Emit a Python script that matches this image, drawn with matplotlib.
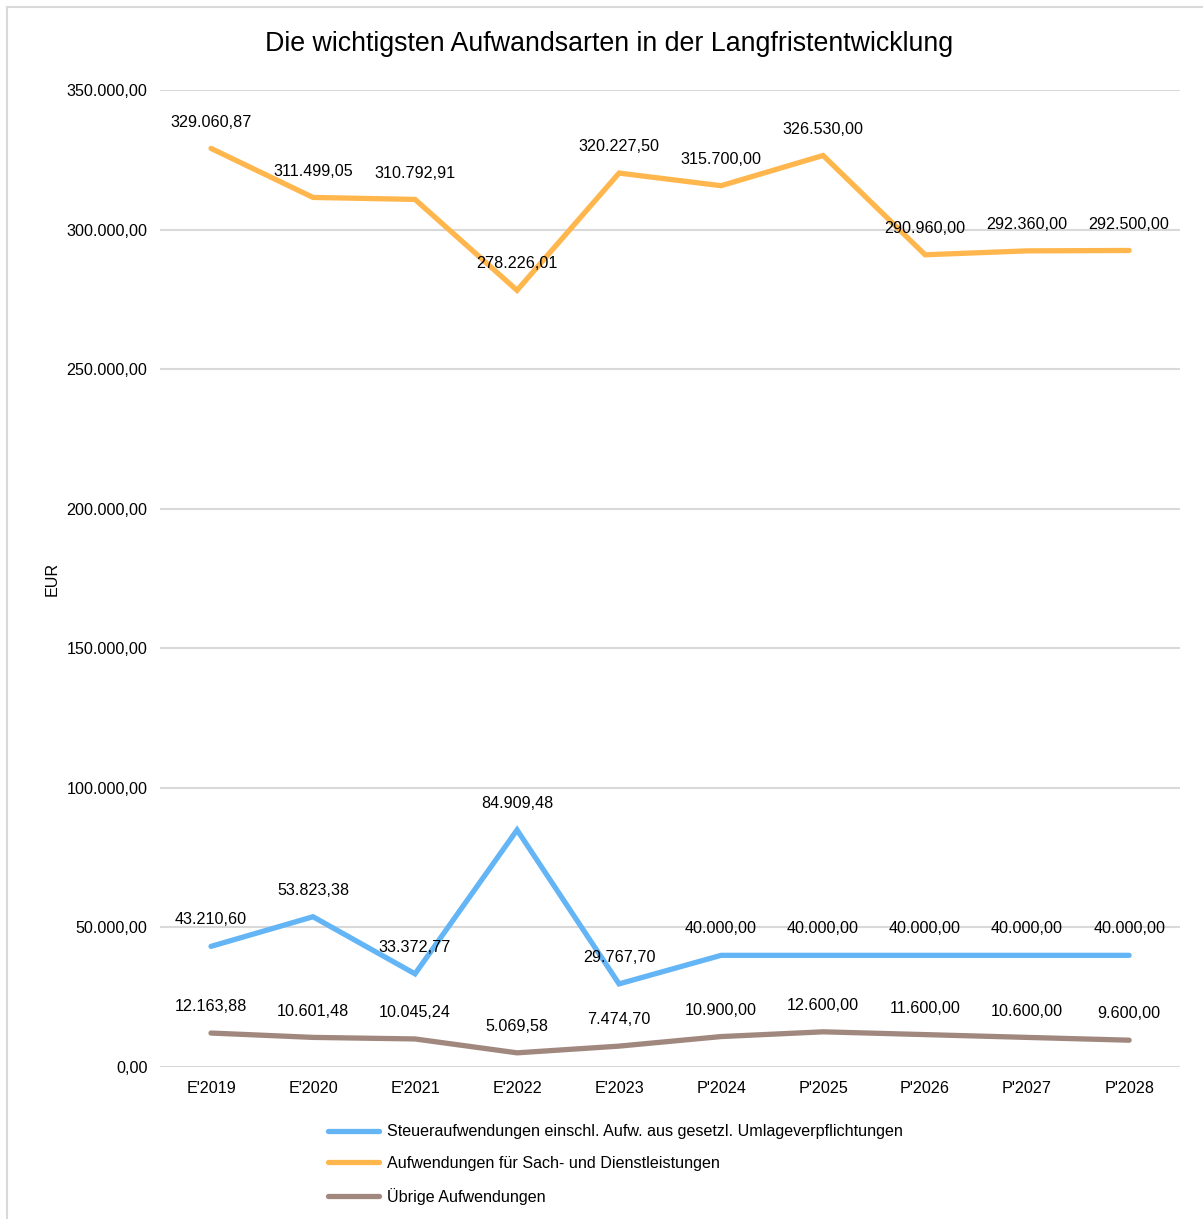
import matplotlib
matplotlib.use('Agg')
import matplotlib.pyplot as plt
from matplotlib.lines import Line2D
from matplotlib.ticker import FuncFormatter

plt.rcParams['font.family'] = ['Liberation Sans', 'DejaVu Sans']

# Data
years = ["E'2019", "E'2020", "E'2021", "E'2022", "E'2023",
         "P'2024", "P'2025", "P'2026", "P'2027", "P'2028"]
steuer = [43210.60, 53823.38, 33372.77, 84909.48, 29767.70,
          40000.00, 40000.00, 40000.00, 40000.00, 40000.00]
sach = [329060.87, 311499.05, 310792.91, 278226.01, 320227.50,
        315700.00, 326530.00, 290960.00, 292360.00, 292500.00]
uebrige = [12163.88, 10601.48, 10045.24, 5069.58, 7474.70,
           10900.00, 12600.00, 11600.00, 10600.00, 9600.00]

labels = ["Steueraufwendungen einschl. Aufw. aus gesetzl. Umlageverpflichtungen",
          "Aufwendungen für Sach- und Dienstleistungen",
          "Übrige Aufwendungen"]
colors = ['#64B5F6', '#FFB74D', '#A1887F']

FS = 11.6


def fmt_de(v, pos=None):
    s = f"{v:,.2f}"
    return s.replace(',', 'X').replace('.', ',').replace('X', '.')


fig = plt.figure(figsize=(12.03, 12.19), dpi=100)
ax = fig.add_axes([0.133, 0.1247, 0.848, 0.8015])

x = list(range(len(years)))
for series, col, lab in zip([steuer, sach, uebrige], colors, labels):
    ax.plot(x, series, color=col, linewidth=3.8, solid_capstyle='round',
            solid_joinstyle='miter', label=lab, zorder=3)
    for xi, v in zip(x, series):
        ax.annotate(fmt_de(v), (xi, v), xytext=(0, 19), textcoords='offset points',
                    ha='center', va='center', fontsize=FS, color='#000000', zorder=4)

ax.set_xlim(-0.5, len(years) - 0.5)
ax.set_ylim(0, 350000)
ax.set_yticks(range(0, 350001, 50000))
ax.yaxis.set_major_formatter(FuncFormatter(fmt_de))
ax.set_xticks(x)
ax.set_xticklabels(years)
ax.tick_params(axis='both', length=0, labelsize=FS)
ax.tick_params(axis='y', pad=9)
ax.tick_params(axis='x', pad=10)
ax.grid(axis='y', color='#d9d9d9', linewidth=1.5, zorder=0)
ax.set_axisbelow(True)
for sp in ax.spines.values():
    sp.set_visible(False)
ax.set_ylabel('EUR', fontsize=FS, labelpad=5)

fig.text(0.506, 0.964, 'Die wichtigsten Aufwandsarten in der Langfristentwicklung',
         ha='center', va='center', fontsize=19.3)

handles = [Line2D([0], [0], color=c, linewidth=3.8, solid_capstyle='round') for c in colors]
fig.legend(handles, labels, loc='upper left', bbox_to_anchor=(0.2725, 0.0778),
           frameon=False, fontsize=FS, handlelength=3.2, handletextpad=0.45,
           labelspacing=1.05, borderaxespad=0, borderpad=0)

# outer chart border
x0 = 7 / 1203
y0 = 1 - 7 / 1219
fig.add_artist(Line2D([x0, x0], [0, y0], color='#d9d9d9', linewidth=1.5))
fig.add_artist(Line2D([x0, 1], [y0, y0], color='#d9d9d9', linewidth=1.5))

fig.savefig('out.png', dpi=100)
